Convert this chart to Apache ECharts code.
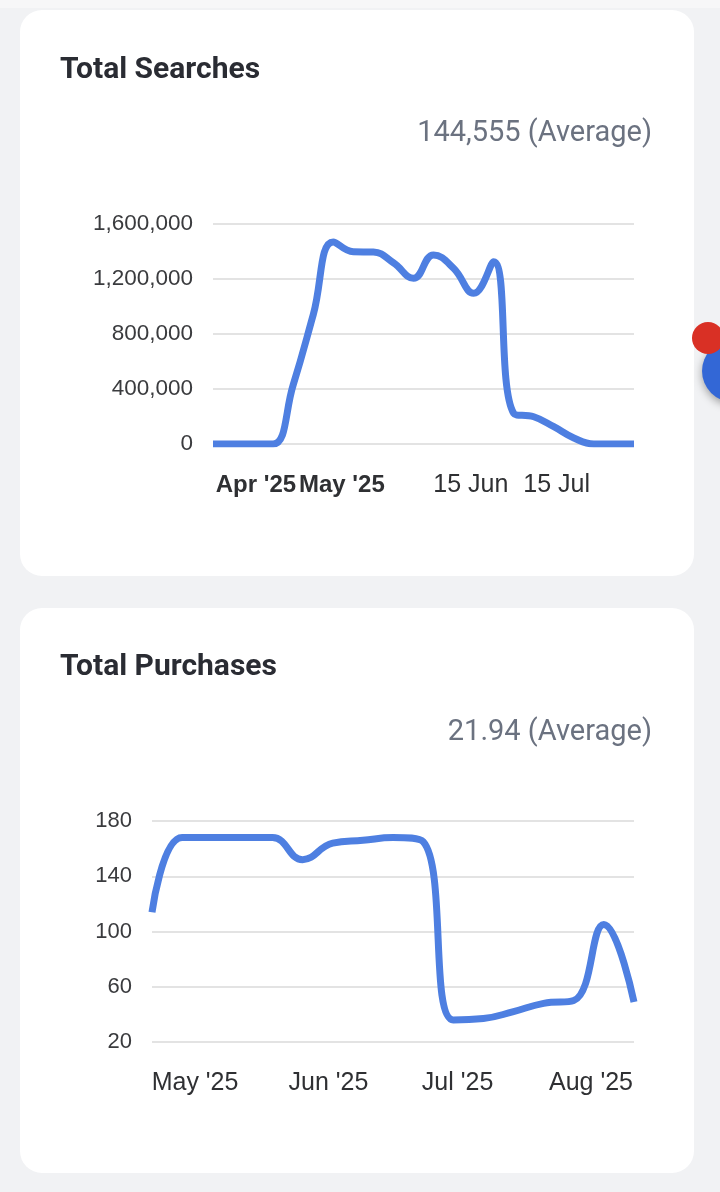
<!DOCTYPE html>
<html><head><meta charset="utf-8">
<script src="https://cdn.jsdelivr.net/npm/echarts@6/dist/echarts.min.js"></script>
<style>
html,body{margin:0;padding:0;width:720px;height:1192px;background:#f1f2f4;overflow:hidden;position:relative;}
.strip{position:absolute;left:0;top:0;width:720px;height:8px;background:#f7f7f8;}
.card{position:absolute;left:20px;width:674px;background:#fff;border-radius:22px;overflow:hidden;}
.chart{position:absolute;left:0;top:0;width:674px;}
.title{position:absolute;left:40px;font-family:Roboto,sans-serif;font-weight:700;font-size:30px;color:#2a2c33;line-height:30px;white-space:nowrap;z-index:2;}
.avg{position:absolute;right:42px;font-family:Roboto,sans-serif;font-size:29px;color:#6b7280;line-height:29px;white-space:nowrap;z-index:2;}
.fab-blue{position:absolute;left:702px;top:340px;width:62px;height:62px;border-radius:50%;background:#3367d6;box-shadow:0 3px 8px rgba(0,0,0,0.35);}
.fab-red{position:absolute;left:692px;top:322px;width:32px;height:32px;border-radius:50%;background:#d93025;}
</style></head>
<body>
<div class="strip"></div>
<div class="card" style="top:10px;height:566px;">
  <div id="c1" class="chart" style="height:566px;"></div>
  <div class="title" style="top:43px;">Total Searches</div>
  <div class="avg" style="top:107px;">144,555 (Average)</div>
</div>
<div class="card" style="top:608px;height:565px;">
  <div id="c2" class="chart" style="height:565px;"></div>
  <div class="title" style="top:42px;">Total Purchases</div>
  <div class="avg" style="top:108px;">21.94 (Average)</div>
</div>
<div class="fab-blue"></div>
<div class="fab-red"></div>
<script>
// ---- Data: Total Searches (weekly) ----
const searchDates = ['2025-03-17','2025-03-24','2025-03-31','2025-04-07','2025-04-14','2025-04-21','2025-04-28','2025-05-05','2025-05-12','2025-05-19','2025-05-26','2025-06-02','2025-06-09','2025-06-16','2025-06-23','2025-06-30','2025-07-07','2025-07-14','2025-07-21','2025-07-28','2025-08-04','2025-08-11'];
const searchValues = [0,0,0,0,430000,940000,1470000,1398000,1396000,1318000,1205000,1375000,1278000,1096000,1326000,223000,198000,126000,44000,0,0,0];
const searchTickDates = ['2025-04-01','2025-05-01','2025-06-15','2025-07-15'];
const searchTickLabels = ["Apr '25","May '25","15 Jun","15 Jul"];
const searchTickBold = [true,true,false,false];
const searchYTicks = [0,400000,800000,1200000,1600000];

// ---- Data: Total Purchases (weekly) ----
const purchaseDates = ['2025-04-21','2025-04-28','2025-05-05','2025-05-12','2025-05-19','2025-05-26','2025-06-02','2025-06-09','2025-06-16','2025-06-23','2025-06-30','2025-07-07','2025-07-14','2025-07-21','2025-07-28','2025-08-04','2025-08-11'];
const purchaseValues = [114,168,168,168,168,152,164,166,168,165,36,37,42,48,50,105,49];
const purchaseTickDates = ['2025-05-01','2025-06-01','2025-07-01','2025-08-01'];
const purchaseTickLabels = ["May '25","Jun '25","Jul '25","Aug '25"];
const purchaseYTicks = [20,60,100,140,180];

const LINE = '#4e7fe1';
const GRID = '#e3e3e3';
const FONT = 'Liberation Sans';

function ms(d){ return Date.parse(d + 'T00:00:00Z'); }

function makeOption(dates, values, tickDates, tickLabels, bold, yTicks, grid, yFmt, ySize){
  const tickMs = tickDates.map(ms);
  return {
    animation:false,
    grid: grid,
    xAxis: {
      type:'value',
      min: ms(dates[0]), max: ms(dates[dates.length-1]),
      axisLine:{show:false}, axisTick:{show:false}, splitLine:{show:false},
      axisLabel:{
        customValues: tickMs,
        hideOverlap:false,
        margin: 29,
        fontFamily: FONT, fontSize: 25, color:'#2f3033',
        formatter: function(v){
          let best=0, bd=Infinity;
          tickMs.forEach((t,i)=>{ const d=Math.abs(t-v); if(d<bd){bd=d;best=i;} });
          return bold && bold[best] ? '{b|'+tickLabels[best]+'}' : tickLabels[best];
        },
        rich:{ b:{fontFamily:FONT, fontSize:24, fontWeight:'bold', color:'#2f3033'} }
      }
    },
    yAxis: {
      type:'value',
      min: yTicks[0], max: yTicks[yTicks.length-1], interval: yTicks[1]-yTicks[0],
      axisLine:{show:false}, axisTick:{show:false},
      splitLine:{show:true, lineStyle:{color:GRID, width:2}},
      axisLabel:{margin:20, fontFamily:FONT, fontSize:ySize, color:'#3a3b3e', formatter: yFmt}
    },
    series:[{
      type:'line', smooth:0.45, showSymbol:false,
      data: dates.map((d,i)=>[ms(d), values[i]]),
      lineStyle:{color:LINE, width:7, cap:'butt', join:'round'}
    }]
  };
}

const c1 = echarts.init(document.getElementById('c1'), null, {renderer:'canvas'});
c1.setOption(makeOption(searchDates, searchValues, searchTickDates, searchTickLabels, searchTickBold, searchYTicks,
  {left:193, right:60, top:214, bottom:132},
  v => v.toLocaleString('en-US'), 22.5));

const c2 = echarts.init(document.getElementById('c2'), null, {renderer:'canvas'});
c2.setOption(makeOption(purchaseDates, purchaseValues, purchaseTickDates, purchaseTickLabels, null, purchaseYTicks,
  {left:132, right:60, top:213, bottom:131},
  v => String(v), 22));
</script>
</body></html>
